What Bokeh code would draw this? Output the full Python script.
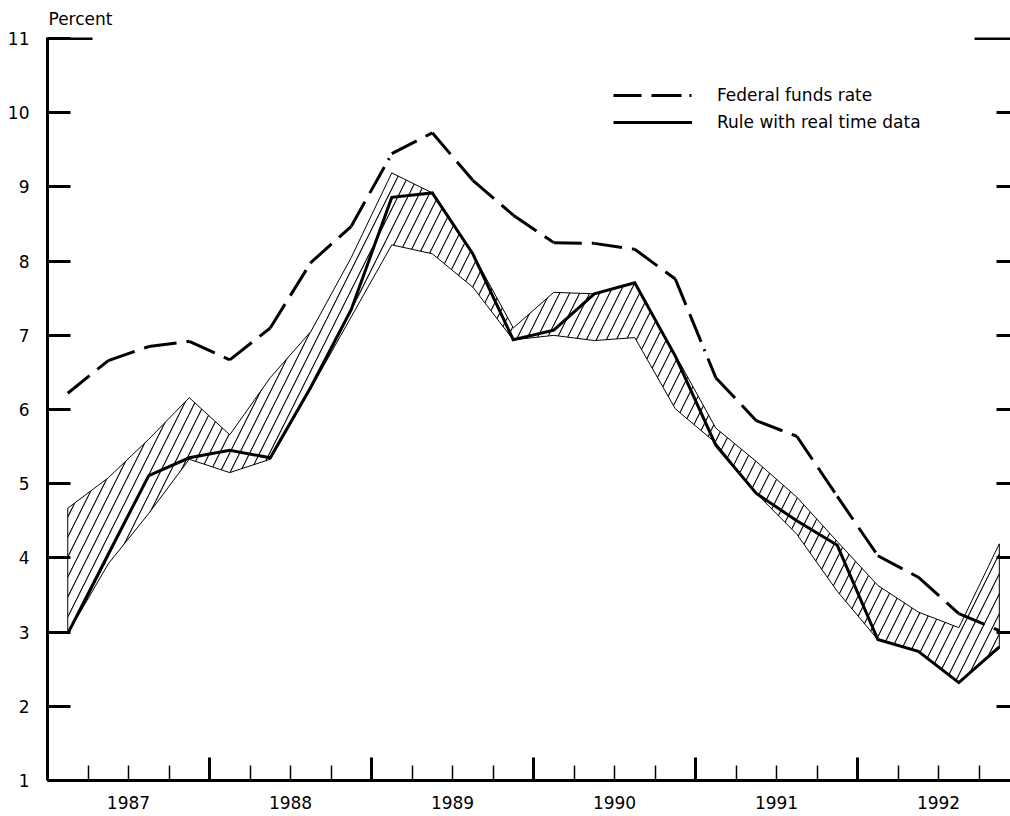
from bokeh.plotting import figure
from bokeh.models import Range1d, FixedTicker, LinearAxis, Legend, LegendItem
from bokeh.embed import file_html
from bokeh.resources import INLINE

# ---------------- data ----------------
years = [1987, 1988, 1989, 1990, 1991, 1992]
quarters = [f"{y}Q{q}" for y in years for q in (1, 2, 3, 4)]

fed_funds = [6.22, 6.66, 6.85, 6.92, 6.67, 7.10, 7.98, 8.47,
             9.45, 9.73, 9.09, 8.62, 8.25, 8.24, 8.16, 7.76,
             6.43, 5.85, 5.64, 4.83, 4.03, 3.74, 3.25, 3.02]

rule_real_time = [2.98, 4.05, 5.11, 5.35, 5.45, 5.35, 6.30, 7.35,
                  8.86, 8.92, 8.10, 6.94, 7.07, 7.56, 7.71, 6.72,
                  5.52, 4.87, 4.50, 4.17, 2.90, 2.74, 2.32, 2.80]

band_upper = [4.67, 5.08, 5.60, 6.16, 5.66, 6.43, 7.05, 8.05,
              9.19, 8.92, 8.10, 7.10, 7.58, 7.56, 7.71, 6.74,
              5.75, 5.30, 4.82, 4.22, 3.63, 3.27, 3.06, 4.19]

band_lower = [2.98, 3.92, 4.60, 5.33, 5.15, 5.33, 6.28, 7.25,
              8.22, 8.10, 7.65, 6.94, 7.00, 6.93, 6.97, 6.01,
              5.55, 4.87, 4.32, 3.55, 2.90, 2.74, 2.32, 2.78]

year_labels = [str(y) for y in years]
y_ticks = [1, 2, 3, 4, 5, 6, 7, 8, 9, 10, 11]

# quarter mid-points in fractional years
x = [int(s[:4]) + (int(s[-1]) - 0.5) / 4 for s in quarters]
year_centers = [y + 0.5 for y in years]
year_bounds = [y + 1 for y in years[:-1]]
quarter_bounds = [y + k / 4 for y in years for k in (1, 2, 3)]

FONT = "DejaVu Sans"
FS = "17px"

p = figure(width=1010, height=816, output_backend="svg", toolbar_location=None,
           x_range=Range1d(1987.0, 1992.944), y_range=Range1d(1, 11.015),
           x_axis_type=None, y_axis_type=None,
           min_border_left=47, min_border_right=0, min_border_top=37,
           min_border_bottom=36, title="Percent")
p.outline_line_color = None
p.background_fill_color = "white"
p.border_fill_color = "white"

p.title.text_font = FONT
p.title.text_font_size = FS
p.title.text_font_style = "normal"
p.title.text_color = "black"
p.title.align = "left"
p.title.vertical_align = "top"
p.title.offset = 1
p.title.standoff = 14

# ---------------- axes ----------------
yl = LinearAxis(ticker=FixedTicker(ticks=y_ticks), axis_line_width=3,
                major_tick_in=23, major_tick_out=0, major_tick_line_width=3,
                minor_tick_line_color=None, major_label_standoff=18,
                major_label_text_font=FONT, major_label_text_font_size=FS,
                major_label_text_color="black")
p.add_layout(yl, "left")

yl_top = LinearAxis(fixed_location=1987.0, ticker=FixedTicker(ticks=[11]),
                    axis_line_color=None, major_tick_in=45, major_tick_out=0,
                    major_tick_line_width=3, minor_tick_line_color=None,
                    major_label_overrides={11: ""}, major_label_text_font_size="0px")
p.add_layout(yl_top, "left")

yr = LinearAxis(fixed_location=1993.0, ticker=FixedTicker(ticks=y_ticks[1:-1]),
                axis_line_width=3, major_tick_in=23, major_tick_out=0,
                major_tick_line_width=3, minor_tick_line_color=None,
                major_label_overrides={t: "" for t in y_ticks[1:-1]},
                major_label_text_font_size="0px")
p.add_layout(yr, "right")

yr_top = LinearAxis(fixed_location=1993.0, ticker=FixedTicker(ticks=[11]),
                    axis_line_color=None, major_tick_in=45, major_tick_out=0,
                    major_tick_line_width=3, minor_tick_line_color=None,
                    major_label_overrides={11: ""}, major_label_text_font_size="0px")
p.add_layout(yr_top, "right")

xb = LinearAxis(ticker=FixedTicker(ticks=year_centers, minor_ticks=quarter_bounds),
                major_label_overrides={c: l for c, l in zip(year_centers, year_labels)},
                axis_line_width=3, major_tick_in=0, major_tick_out=0,
                minor_tick_in=15, minor_tick_out=0, minor_tick_line_width=1.5,
                major_label_standoff=15, major_label_text_font=FONT,
                major_label_text_font_size=FS, major_label_text_color="black")
p.add_layout(xb, "below")

xb_years = LinearAxis(fixed_location=1, ticker=FixedTicker(ticks=year_bounds),
                      axis_line_color=None, major_tick_in=23, major_tick_out=0,
                      major_tick_line_width=3, minor_tick_line_color=None,
                      major_label_overrides={b: "" for b in year_bounds},
                      major_label_text_font_size="0px")
p.add_layout(xb_years, "below")

# ---------------- glyphs ----------------
band_x = x + x[::-1]
band_y = band_upper + band_lower[::-1]
p.patch(band_x, band_y, fill_color=None, line_color="black", line_width=1,
        hatch_pattern="/", hatch_color="black", hatch_weight=1.1, hatch_scale=20)

# federal funds rate: dash pattern restarts at every quarter (segment per quarter)
r_ff = p.segment(x0=x[:-1], y0=fed_funds[:-1], x1=x[1:], y1=fed_funds[1:],
                 line_color="black", line_width=3, line_dash="28 10 30 8 2 8")
r_rule = p.line(x, rule_real_time, line_color="black", line_width=3,
                line_join="miter")

legend = Legend(items=[LegendItem(label="Federal funds rate", renderers=[r_ff]),
                       LegendItem(label="Rule with real time data", renderers=[r_rule])],
                location=(566, 648), padding=0, margin=0, spacing=7,
                glyph_width=79, glyph_height=20, label_height=20, label_standoff=25,
                border_line_color=None, background_fill_alpha=0,
                label_text_font=FONT, label_text_font_size=FS,
                label_text_color="black")
p.add_layout(legend)

open("out.html", "w").write(file_html(p, INLINE))
